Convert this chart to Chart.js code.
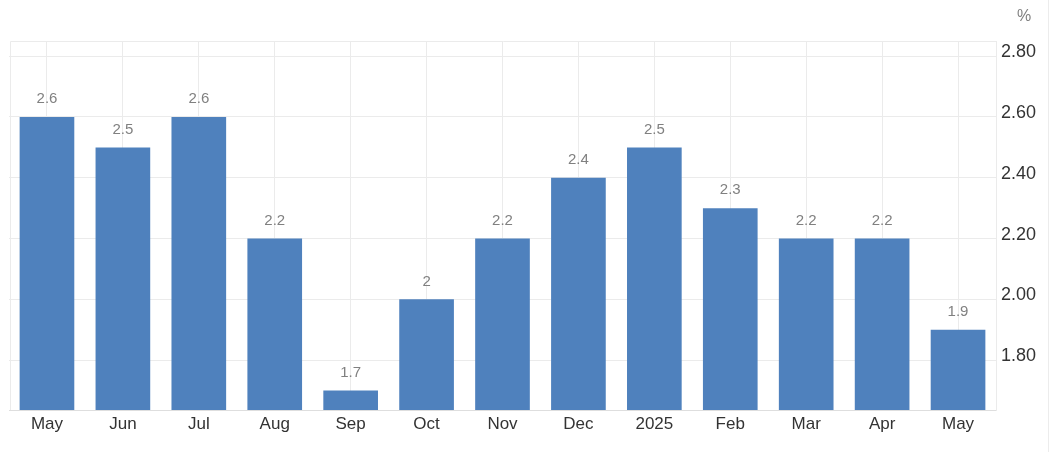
<!DOCTYPE html>
<html>
<head>
<meta charset="utf-8">
<script src="https://cdn.jsdelivr.net/npm/chart.js@4/dist/chart.umd.min.js"></script>
<style>
  html, body { margin: 0; padding: 0; background: #fff; }
  #wrap { position: relative; width: 1057px; height: 452px; }
  #edge { position: absolute; left: 1048px; top: 0; width: 1px; height: 452px; background: #ececec; }
</style>
</head>
<body>
<div id="wrap">
  <canvas id="rate-chart" width="1057" height="452"></canvas>
  <div id="edge"></div>
</div>
<script>
// Monthly values, May to May
const months = ['May', 'Jun', 'Jul', 'Aug', 'Sep', 'Oct', 'Nov', 'Dec', '2025', 'Feb', 'Mar', 'Apr', 'May'];
const rates = [2.6, 2.5, 2.6, 2.2, 1.7, 2, 2.2, 2.4, 2.5, 2.3, 2.2, 2.2, 1.9];
const yTicks = [1.8, 2.0, 2.2, 2.4, 2.6, 2.8];
const unitLabel = '%';

const barColor = '#4f81bd';
const gridColor = '#ebebeb';

// value labels above each bar
const valueLabels = {
  id: 'valueLabels',
  afterDatasetsDraw(chart) {
    const ctx = chart.ctx;
    const meta = chart.getDatasetMeta(0);
    ctx.save();
    ctx.font = '15px "Liberation Sans", Arial, sans-serif';
    ctx.fillStyle = '#808080';
    ctx.textAlign = 'center';
    ctx.textBaseline = 'middle';
    meta.data.forEach((bar, i) => {
      ctx.fillText(String(rates[i]), bar.x, bar.y - 18);
    });
    ctx.restore();
  }
};

// light frame round the plot and the unit label
const frame = {
  id: 'frame',
  beforeDatasetsDraw(chart) {
    const a = chart.chartArea;
    const ctx = chart.ctx;
    ctx.save();
    ctx.strokeStyle = gridColor;
    ctx.lineWidth = 1;
    ctx.beginPath();
    ctx.moveTo(a.left + 1.5, a.bottom);
    ctx.lineTo(a.left + 1.5, a.top + 0.5);
    ctx.lineTo(a.right, a.top + 0.5);
    ctx.stroke();
    ctx.restore();
  },
  afterDraw(chart) {
    const ctx = chart.ctx;
    ctx.save();
    ctx.font = '16px "Liberation Sans", Arial, sans-serif';
    ctx.fillStyle = '#808080';
    ctx.textAlign = 'center';
    ctx.textBaseline = 'middle';
    ctx.fillText(unitLabel, 1024, 17);
    ctx.restore();
  }
};

new Chart(document.getElementById('rate-chart'), {
  type: 'bar',
  data: {
    labels: months,
    datasets: [{
      data: rates,
      backgroundColor: barColor,
      borderWidth: 0,
      barPercentage: 0.72,
      categoryPercentage: 1.0
    }]
  },
  options: {
    responsive: false,
    animation: false,
    layout: { padding: { left: 9, top: 41, right: 0, bottom: 0 } },
    plugins: {
      legend: { display: false },
      tooltip: { enabled: false }
    },
    scales: {
      x: {
        grid: { offset: false, color: gridColor, drawTicks: false },
        border: { color: '#dedede' },
        ticks: {
          color: '#333',
          padding: 4,
          font: { family: '"Liberation Sans", Arial, sans-serif', size: 17 }
        },
        afterFit(scale) { scale.height = 42; }
      },
      y: {
        position: 'right',
        min: 1.636,
        max: 2.85,
        grid: { color: gridColor, drawTicks: false },
        border: { color: gridColor },
        afterBuildTicks(scale) {
          scale.ticks = yTicks.map(v => ({ value: v }));
        },
        ticks: {
          color: '#333',
          padding: 5,
          labelOffset: -4,
          font: { family: '"Liberation Sans", Arial, sans-serif', size: 18 },
          callback: v => v.toFixed(2)
        },
        afterFit(scale) { scale.width = 61; }
      }
    }
  },
  plugins: [frame, valueLabels]
});
</script>
</body>
</html>
